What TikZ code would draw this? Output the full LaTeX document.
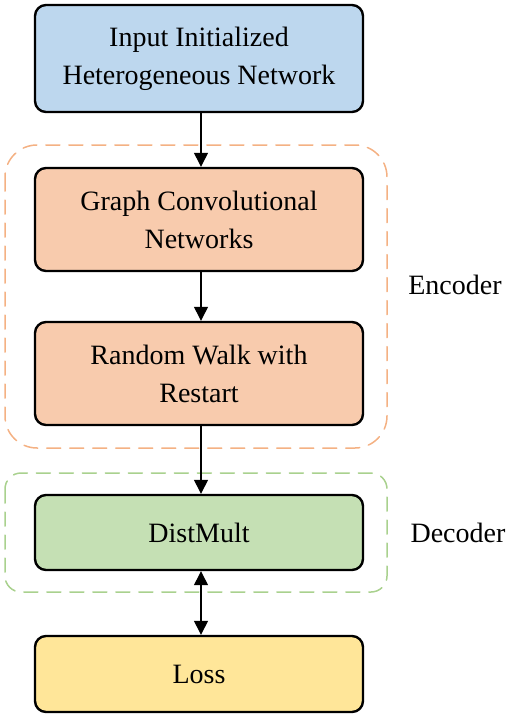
\documentclass[tikz,border=0pt]{standalone}
\usepackage{fontspec}
\setmainfont{Liberation Serif}
\usepackage{xcolor}
\usetikzlibrary{arrows.meta}
\definecolor{box_blue}{HTML}{BDD7EE}
\definecolor{box_orange}{HTML}{F8CBAD}
\definecolor{box_green}{HTML}{C5E0B4}
\definecolor{box_yellow}{HTML}{FFE699}
\definecolor{dash_orange}{HTML}{F4B183}
\definecolor{dash_green}{HTML}{A9D18E}

\begin{document}
\begin{tikzpicture}[
                x=1pt,
                y=-1pt,
                line cap=round,
                line join=round,
                stage/.style={draw=black, line width=2.4pt, rounded corners=11pt,
                    minimum width=328pt, align=center, inner sep=0pt,
                    font=\fontsize{28}{38}\selectfont},
                flow/.style={-{Triangle[length=14pt,width=14pt]}, line width=1.3pt},
                group/.style={dashed, dash pattern=on 14pt off 9pt, line width=1.5pt},
                tag/.style={font=\fontsize{28}{34}\selectfont}
            ]
            \useasboundingbox (0,0) rectangle (510,717);

            % Dashed groups
            \draw[group, dash_orange, rounded corners=32pt] (5,145) rectangle (387,448);
            \draw[group, dash_green, rounded corners=16pt] (5,473) rectangle (387,592);

            % Stages
            \node[stage, fill=box_blue, minimum height=107pt] (input) at (199,58.5)
                {Input Initialized\\Heterogeneous Network};
            \node[stage, fill=box_orange, minimum height=103pt] (gcn) at (199,219.5)
                {Graph Convolutional\\Networks};
            \node[stage, fill=box_orange, minimum height=103pt] (rwr) at (199,373.5)
                {Random Walk with\\Restart};
            \node[stage, fill=box_green, minimum height=75pt] (distmult) at (199,532.5)
                {DistMult};
            \node[stage, fill=box_yellow, minimum height=76pt] (loss) at (199,674)
                {Loss};

            % Group labels
            \node[tag] (encoder) at (455,285) {Encoder};
            \node[tag] (decoder) at (458,533) {Decoder};

            % Connectors
            \draw[flow] (input.south -| 201,0) -- (gcn.north -| 201,0);
            \draw[flow] (gcn.south -| 201,0) -- (rwr.north -| 201,0);
            \draw[flow] (rwr.south -| 201,0) -- (distmult.north -| 201,0);
            \draw[flow, {Triangle[length=14pt,width=14pt]}-{Triangle[length=14pt,width=14pt]}]
                (distmult.south -| 201,0) -- (loss.north -| 201,0);
        \end{tikzpicture}
\end{document}
